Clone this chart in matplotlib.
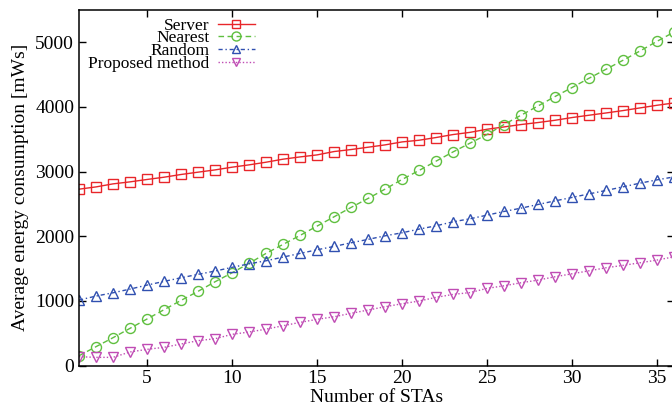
import matplotlib
matplotlib.use('Agg')
import matplotlib.pyplot as plt

# number of stations
stas = list(range(1, 37))

# average energy consumption [mWs]
server = [2728, 2763, 2810, 2841, 2878, 2913, 2955, 2991, 3026, 3068, 3104, 3145,
          3192, 3227, 3258, 3310, 3341, 3377, 3413, 3459, 3485, 3527, 3573, 3607,
          3655, 3691, 3728, 3759, 3794, 3836, 3872, 3907, 3944, 3985, 4026, 4062]
nearest = [151, 291, 430, 575, 719, 863, 1007, 1147, 1295, 1434, 1580, 1734,
           1873, 2012, 2156, 2300, 2445, 2584, 2728, 2878, 3017, 3161, 3304, 3440,
           3573, 3728, 3872, 4015, 4161, 4300, 4444, 4583, 4722, 4866, 5015, 5159]
random_sel = [1012, 1074, 1125, 1182, 1244, 1301, 1357, 1410, 1461, 1518, 1573, 1620,
              1677, 1734, 1790, 1842, 1898, 1951, 2006, 2053, 2110, 2161, 2223, 2270,
              2326, 2383, 2434, 2491, 2547, 2600, 2655, 2708, 2764, 2821, 2872, 2918]
proposed = [136, 126, 126, 209, 250, 281, 332, 384, 414, 482, 518, 562,
            615, 667, 714, 754, 807, 858, 909, 955, 997, 1054, 1100, 1128,
            1193, 1233, 1280, 1321, 1373, 1419, 1465, 1512, 1549, 1589, 1631, 1682]

plt.rcParams['font.family'] = ['Liberation Serif', 'DejaVu Serif']

fig = plt.figure(figsize=(6.72, 4.09), dpi=100)
ax = fig.add_axes([79 / 672, 43.5 / 409, 595 / 672, 355.5 / 409])

ms = 6.8
ax.plot(stas, server, color='#e8262a', lw=1.0, ls='-', marker='s', ms=ms,
        mfc='none', mew=1.0, label='Server')
ax.plot(stas, nearest, color='#5fbf3f', lw=1.0, ls=(0, (4, 2.5)), marker='o', ms=ms + 0.4,
        mfc='none', mew=1.0, label='Nearest')
ax.plot(stas, random_sel, color='#3050b0', lw=1.0, ls=(0, (3, 2, 1, 2)), marker='^', ms=ms,
        mfc='none', mew=1.0, label='Random')
ax.plot(stas, proposed, color='#c04cb4', lw=1.0, ls=(0, (1, 1.5)), marker='v', ms=ms,
        mfc='none', mew=1.0, label='Proposed method')

ax.set_xlim(1, 36)
ax.set_ylim(0, 5500)
ax.set_xticks(range(5, 36, 5))
ax.set_yticks(range(0, 5001, 1000))
ax.tick_params(direction='in', length=5, width=1, top=True, right=True, labelsize=14)
for s in ax.spines.values():
    s.set_linewidth(1.1)

ax.set_xlabel('Number of STAs', fontsize=14, labelpad=1.5)
ax.set_ylabel('Average energy consumption [mWs]', fontsize=14, labelpad=4)

ax.legend(loc='upper left', bbox_to_anchor=(-0.005, 1.013), frameon=False,
          markerfirst=False, fontsize=12.5, handlelength=2.1, handletextpad=0.5,
          labelspacing=-0.2, borderaxespad=0.3, markerscale=0.9)
for t in ax.get_legend().get_texts():
    t.set_ha('right')

fig.savefig('out.png', dpi=100)
